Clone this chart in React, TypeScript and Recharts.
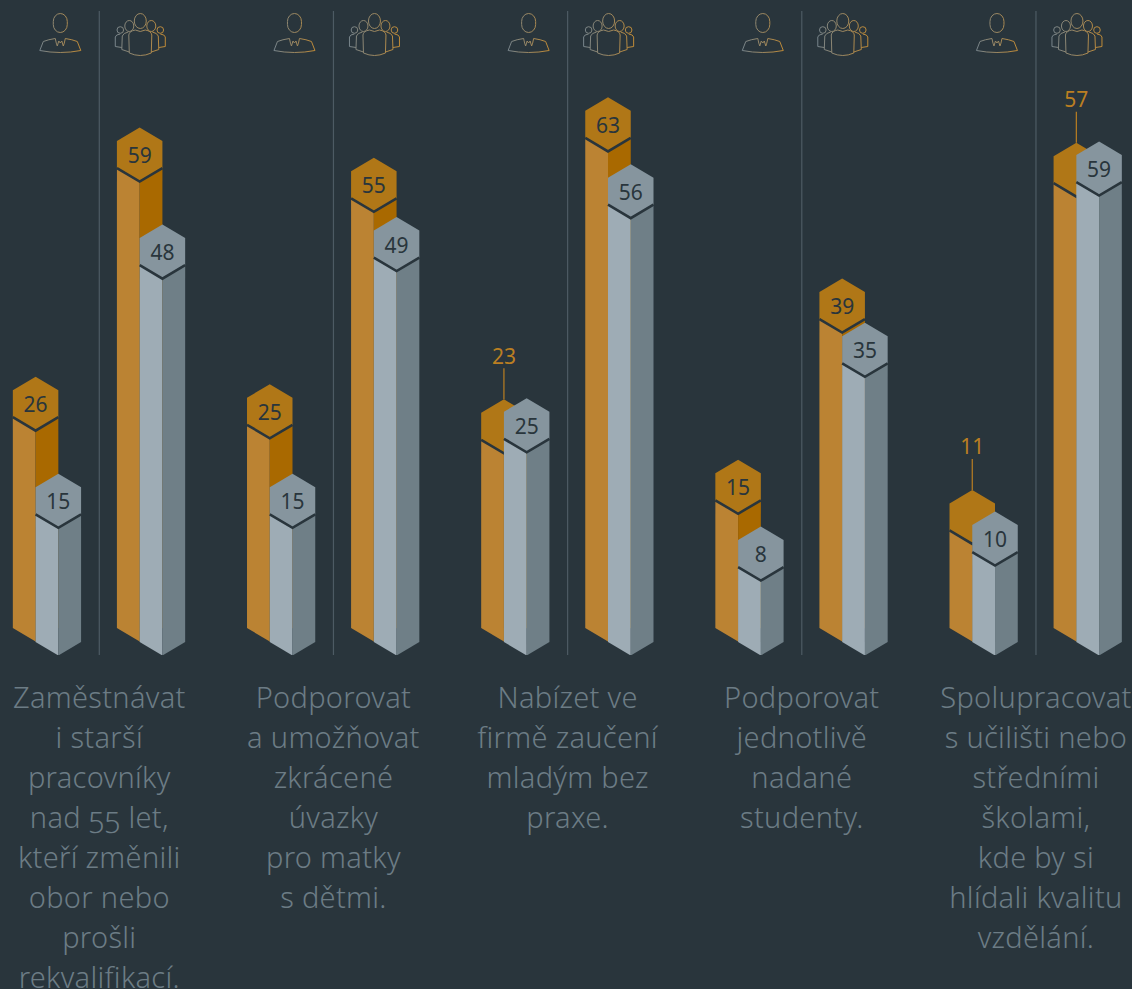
import { BarChart, Bar, XAxis, YAxis, ReferenceLine } from 'recharts';

const employer = [26, 25, 23, 15, 11];
const employerGrey = [15, 15, 25, 8, 10];
const group = [59, 55, 63, 39, 57];
const groupGrey = [48, 49, 56, 35, 59];

const captions = [
  ['Zaměstnávat', 'i starší', 'pracovníky', 'nad 55 let,', 'kteří změnili', 'obor nebo', 'prošli', 'rekvalifikací.'],
  ['Podporovat', 'a umožňovat', 'zkrácené', 'úvazky', 'pro matky', 's dětmi.'],
  ['Nabízet ve', 'firmě zaučení', 'mladým bez', 'praxe.'],
  ['Podporovat', 'jednotlivě', 'nadané', 'studenty.'],
  ['Spolupracovat', 's učilišti nebo', 'středními', 'školami,', 'kde by si', 'hlídali kvalitu', 'vzdělání.'],
];

// each group is 9 slots wide, second column starts 4 slots in
const dividers = [2, 11, 20, 29, 38];
const rows = employer.flatMap((_, i) => [
  { slot: i * 9, orange: employer[i], grey: employerGrey[i] },
  { slot: i * 9 + 4, orange: group[i], grey: groupGrey[i] },
]);

const BG = '#29353c';
const FONT = '"Noto Sans", sans-serif';

const ORANGE = { top: '#b07717', left: '#bb8333', right: '#a96900' };
const GREY = { top: '#86959e', left: '#9eacb5', right: '#6f7f87' };

const RISE = 13.5;
const SIDE = 27;

function Column(props: any, colors: typeof ORANGE, dy: number, value: number, outside: boolean) {
  const { x, y, width, height } = props;
  const cx = x + width / 2;
  const h = width;
  const top = y + dy;
  const base = y + height + dy;
  const low = top + RISE + SIDE;
  const tip = low + RISE;
  const hex = `${cx},${top} ${cx + h},${top + RISE} ${cx + h},${low} ${cx},${tip} ${cx - h},${low} ${cx - h},${top + RISE}`;
  return (
    <g>
      <polygon points={`${cx - h},${low} ${cx},${tip} ${cx},${base + 55 + RISE} ${cx - h},${base + 55}`} fill={colors.left} />
      <polygon points={`${cx},${tip} ${cx + h},${low} ${cx + h},${base + 55} ${cx},${base + 55 + RISE}`} fill={colors.right} />
      <polygon points={hex} fill={colors.top} />
      <polyline points={`${cx - h},${low} ${cx},${tip} ${cx + h},${low}`} fill="none" stroke={BG} strokeWidth={2.6} />
      {outside ? (
        <g>
          <line x1={cx} x2={cx} y1={top} y2={top - 31} stroke="#bb7f22" strokeWidth={1.2} />
          <text x={cx} y={top - 35.5} textAnchor="middle" fontFamily={FONT} fontSize={21} fill="#bb7f22">{value}</text>
        </g>
      ) : (
        <text x={cx} y={top + 35.5} textAnchor="middle" fontFamily={FONT} fontSize={21} fill={BG}>{value}</text>
      )}
    </g>
  );
}

const OrangeShape = (props: any) =>
  Column(props, ORANGE, 0, props.payload.orange, props.payload.orange - props.payload.grey < 3);
const GreyShape = (props: any) => Column(props, GREY, 14, props.payload.grey, false);

function Person({ x }: { x: number }) {
  return (
    <g transform={`translate(${x},0)`} fill="none" stroke="url(#personStroke)" strokeWidth={1}>
      <rect x={-7} y={13.5} width={14} height={19} rx={7} ry={8} />
      <path d="M-20.5 50.5 L-17 41.5 Q-12 39.5 -5 38.5 Q-4 44 -3 46 L-1.5 41 L0 43 L1.5 41 L3 46 Q4 44 5 38.5 Q12 39.5 17 41.5 L20.5 50.5 Q0 54.5 -20.5 50.5 Z" />
    </g>
  );
}

function Crowd({ x }: { x: number }) {
  return (
    <g transform={`translate(${x},0)`} fill="none" stroke="url(#crowdStroke)" strokeWidth={1}>
      <ellipse cx={0} cy={21} rx={6} ry={7.5} />
      <path d="M-5 30 Q-11 31 -11.5 35 L-11 53 Q0 58 11 53 L11.5 35 Q11 31 5 30 Q0 33 -5 30 Z" />
      <ellipse cx={-11} cy={26} rx={4.5} ry={5.5} />
      <ellipse cx={11} cy={26} rx={4.5} ry={5.5} />
      <path d="M-12 32 Q-17 33 -18 36 L-18.5 49.5 L-11 52" />
      <path d="M12 32 Q17 33 18 36 L18.5 49.5 L11 52" />
      <circle cx={-20} cy={30} r={3.3} />
      <circle cx={20} cy={30} r={3.3} />
      <path d="M-20 34 Q-24.5 34.5 -25 37 L-25 46.5 L-18.5 47.5" />
      <path d="M20 34 Q24.5 34.5 25 37 L25 46.5 L18.5 47.5" />
    </g>
  );
}

const DividerIcons = (props: any) => {
  const { x } = props.viewBox;
  return (
    <g>
      <Person x={x - 39} />
      <Crowd x={x + 41} />
    </g>
  );
};

const CaptionTick = (props: any) => {
  const { x, payload } = props;
  const lines = captions[dividers.indexOf(payload.value)] ?? [];
  return (
    <text textAnchor="middle" fontFamily={FONT} fontSize={29} fontWeight={300} letterSpacing={0.3} fill="#6c7c85" style={{ fontVariantNumeric: 'oldstyle-nums' }}>
      {lines.map((line, i) => (
        <tspan key={i} x={x} y={707.5 + i * 40}>{line}</tspan>
      ))}
    </text>
  );
};

export default function App() {
  return (
    <div style={{ position: 'absolute', left: 0, top: 0, width: 1132, height: 989, background: BG, overflow: 'hidden' }}>
      <BarChart
        width={1132}
        height={989}
        data={rows}
        margin={{ top: 11, right: 44, bottom: 0, left: 47.25 }}
        barSize={22.75}
        barGap={0}
      >
        <defs>
          <linearGradient id="personStroke" gradientUnits="userSpaceOnUse" x1={-21} x2={21} y1={0} y2={0}>
            <stop offset="0" stopColor="#76848c" />
            <stop offset="1" stopColor="#c08a35" />
          </linearGradient>
          <linearGradient id="crowdStroke" gradientUnits="userSpaceOnUse" x1={-26} x2={26} y1={0} y2={0}>
            <stop offset="0" stopColor="#76848c" />
            <stop offset="1" stopColor="#c08a35" />
          </linearGradient>
        </defs>
        <XAxis
          type="number"
          dataKey="slot"
          domain={[0, 40]}
          ticks={dividers}
          interval={0}
          axisLine={false}
          tickLine={false}
          height={334}
          tick={<CaptionTick />}
        />
        <YAxis hide domain={[-10.86, 74.44]} allowDataOverflow />
        {dividers.map((d) => (
          <ReferenceLine key={d} x={d} stroke="#4d5b64" strokeWidth={1.2} label={<DividerIcons />} />
        ))}
        <Bar dataKey="orange" isAnimationActive={false} shape={OrangeShape} />
        <Bar dataKey="grey" isAnimationActive={false} shape={GreyShape} />
      </BarChart>
    </div>
  );
}
